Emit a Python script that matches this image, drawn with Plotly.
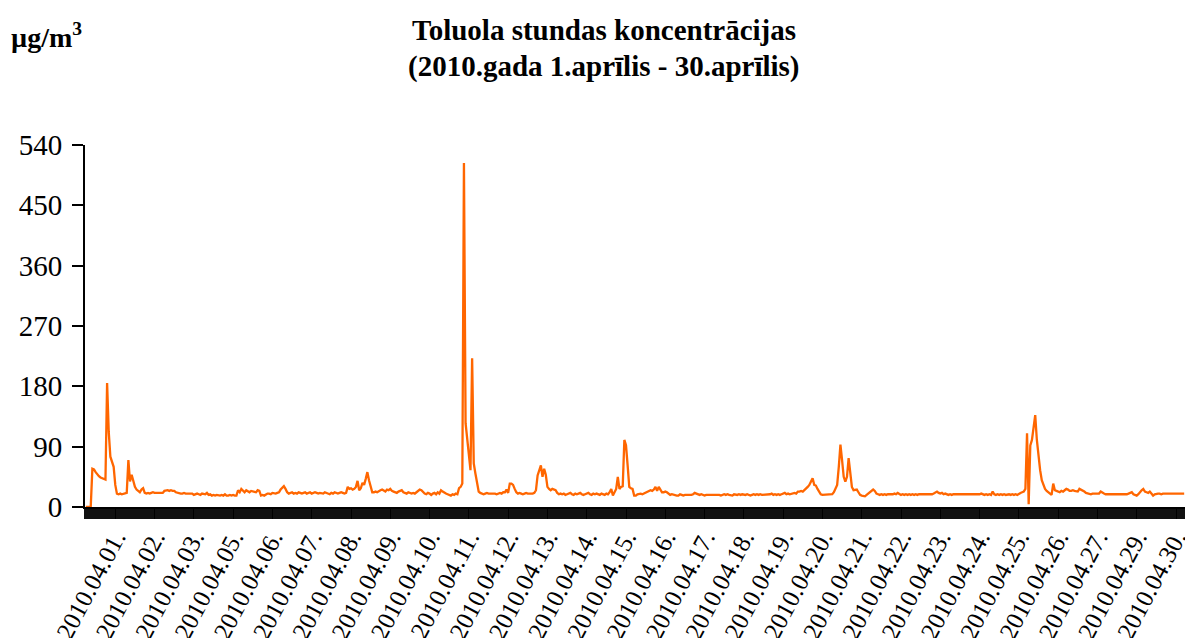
import plotly.graph_objects as go

# ---- data ----
day_labels = ["2010.04.01.", "2010.04.02.", "2010.04.03.", "2010.04.05.", "2010.04.06.",
              "2010.04.07.", "2010.04.08.", "2010.04.09.", "2010.04.10.", "2010.04.11.",
              "2010.04.12.", "2010.04.13.", "2010.04.14.", "2010.04.15.", "2010.04.16.",
              "2010.04.17.", "2010.04.18.", "2010.04.19.", "2010.04.20.", "2010.04.21.",
              "2010.04.22.", "2010.04.23.", "2010.04.24.", "2010.04.25.", "2010.04.26.",
              "2010.04.27.", "2010.04.29.", "2010.04.30."]

# hourly toluene concentration, µg/m3 (24 values per labelled day)
hourly_toluene = [
    0, 0, 0, 0, 57, 56, 52, 48, 46, 44, 43, 43, 41, 185, 112, 75, 67, 60, 33, 20, 19, 20, 19, 20,
    20, 21, 70, 38, 48, 40, 30, 26, 24, 22, 26, 28, 21, 20, 21, 20, 21, 22, 21, 21, 22, 21, 22, 21,
    24, 25, 25, 24, 25, 24, 24, 22, 21, 21, 20, 20, 21, 20, 20, 19, 19, 20, 18, 19, 20, 19, 18, 20,
    20, 19, 21, 18, 19, 17, 18, 17, 18, 17, 17, 18, 17, 19, 17, 17, 18, 17, 18, 17, 17, 25, 22, 27,
    24, 22, 25, 23, 22, 24, 23, 22, 22, 25, 24, 17, 18, 17, 19, 20, 20, 19, 21, 20, 20, 21, 22, 26,
    28, 31, 27, 22, 20, 21, 22, 20, 21, 20, 22, 21, 20, 21, 22, 20, 21, 22, 20, 21, 22, 21, 20, 21,
    21, 20, 22, 21, 20, 19, 21, 20, 22, 21, 20, 21, 22, 21, 20, 21, 30, 27, 28, 26, 27, 30, 39, 25,
    28, 36, 33, 42, 52, 40, 30, 22, 22, 23, 22, 24, 25, 26, 24, 23, 26, 25, 27, 24, 23, 22, 21, 23,
    24, 25, 22, 21, 20, 22, 21, 20, 21, 20, 22, 24, 26, 25, 22, 20, 19, 21, 20, 18, 20, 21, 19, 22,
    20, 25, 23, 21, 20, 19, 18, 17, 19, 18, 20, 19, 28, 30, 35, 513, 125, 100, 75, 55, 222, 65, 50, 35,
    23, 21, 20, 19, 20, 21, 20, 20, 21, 20, 20, 19, 20, 21, 20, 22, 22, 26, 21, 35, 35, 33, 27, 22,
    20, 21, 20, 19, 20, 21, 20, 20, 19, 20, 21, 25, 47, 55, 62, 45, 57, 48, 30, 27, 25, 27, 26, 25,
    21, 19, 20, 19, 20, 18, 19, 20, 21, 19, 18, 20, 19, 20, 21, 19, 18, 19, 20, 21, 19, 18, 20, 19,
    20, 19, 18, 20, 19, 18, 20, 19, 22, 27, 17, 23, 27, 45, 27, 30, 31, 100, 92, 62, 30, 28, 27, 17,
    17, 19, 20, 20, 19, 20, 21, 22, 24, 25, 24, 26, 30, 24, 30, 25, 22, 22, 23, 22, 20, 18, 19, 18,
    18, 17, 17, 19, 18, 17, 18, 18, 17, 18, 18, 19, 21, 20, 19, 18, 19, 18, 17, 18, 18, 19, 18, 18,
    19, 18, 19, 18, 17, 18, 19, 18, 19, 18, 18, 17, 19, 18, 18, 19, 18, 19, 18, 18, 19, 18, 17, 18,
    19, 18, 19, 18, 19, 18, 18, 19, 18, 18, 19, 20, 18, 19, 18, 19, 18, 19, 20, 21, 19, 20, 19, 20,
    20, 21, 20, 23, 23, 24, 23, 25, 27, 30, 33, 38, 43, 33, 32, 27, 22, 19, 18, 18, 19, 18, 18, 19,
    19, 22, 29, 33, 60, 93, 70, 45, 38, 45, 73, 55, 30, 25, 26, 26, 22, 18, 17, 16, 16, 18, 20, 22,
    24, 26, 24, 20, 19, 18, 19, 18, 19, 18, 19, 19, 18, 19, 20, 19, 21, 19, 18, 19, 18, 19, 18, 19,
    18, 19, 18, 19, 18, 19, 19, 18, 19, 18, 19, 18, 19, 19, 20, 21, 23, 21, 20, 21, 19, 20, 19, 18,
    19, 18, 19, 19, 18, 19, 18, 19, 19, 18, 19, 19, 18, 18, 19, 18, 19, 18, 19, 20, 19, 18, 19, 18,
    19, 18, 23, 19, 18, 19, 18, 19, 18, 19, 18, 19, 19, 18, 19, 18, 19, 18, 20, 21, 22, 23, 27, 110,
    4, 92, 100, 118, 137, 100, 75, 55, 40, 33, 27, 24, 22, 20, 18, 35, 25, 24, 23, 22, 24, 23, 25, 27,
    26, 24, 24, 25, 24, 24, 23, 27, 26, 25, 23, 21, 20, 20, 19, 20, 20, 21, 20, 20, 23, 21, 20, 19,
    19, 18, 19, 19, 18, 19, 19, 18, 19, 19, 18, 19, 19, 20, 21, 22, 19, 18, 17, 19, 23, 25, 27, 23,
    22, 21, 23, 19, 17, 19, 20, 20, 20, 19, 20, 20, 19, 20, 20, 19, 20, 20, 19, 20, 20, 19, 20, 20,
]

y_ticks = [0, 90, 180, 270, 360, 450, 540]

HOURS_PER_DAY = 24
hours = list(range(len(hourly_toluene)))
label_pos = [i * HOURS_PER_DAY + 18 for i in range(len(day_labels))]

SERIF = "Liberation Serif, Times New Roman, serif"

fig = go.Figure(
    go.Scatter(x=hours, y=hourly_toluene, mode="lines",
               line=dict(color="#FF6600", width=2.3), hoverinfo="skip")
)

fig.update_layout(
    width=1185, height=638,
    margin=dict(l=85, r=0, t=145, b=131, autoexpand=False),
    paper_bgcolor="white", plot_bgcolor="white",
    showlegend=False,
    font=dict(family=SERIF, color="black", size=26),
    annotations=[
        dict(text="<b>Toluola stundas koncentrācijas</b>", xref="paper", yref="paper",
             x=(604 - 85) / 1100, y=(507 - 30) / 362, xanchor="center", yanchor="middle",
             showarrow=False, font=dict(family=SERIF, size=29, color="black")),
        dict(text="<b>(2010.gada 1.aprīlis - 30.aprīlis)</b>", xref="paper", yref="paper",
             x=(604 - 85) / 1100, y=(507 - 66) / 362, xanchor="center", yanchor="middle",
             showarrow=False, font=dict(family=SERIF, size=29, color="black")),
        dict(text="<b>µg/m<sup>3</sup></b>", xref="paper", yref="paper",
             x=(9 - 85) / 1100, y=(507 - 35) / 362, xanchor="left", yanchor="middle",
             showarrow=False, font=dict(family=SERIF, size=28, color="black")),
    ],
)

fig.update_xaxes(
    automargin=False,
    range=[-0.5, len(hourly_toluene) - 0.5],
    tickmode="array", tickvals=label_pos, ticktext=day_labels,
    tickangle=-62, ticks="outside", ticklen=10, tickwidth=1, tickcolor="black",
    tickfont=dict(family=SERIF, size=25, color="black"),
    ticklabelstandoff=-6, ticklabeloverflow="allow",
    showline=True, linecolor="black", linewidth=2,
    showgrid=False, zeroline=False,
    minor=dict(tickmode="linear", tick0=-0.5, dtick=1, ticks="outside",
               ticklen=10, tickwidth=1.5, tickcolor="#111111", showgrid=False),
)

fig.update_yaxes(
    automargin=False,
    range=[0, 540], tickmode="array", tickvals=y_ticks,
    ticks="outside", ticklen=11, tickwidth=2, tickcolor="black",
    tickfont=dict(family=SERIF, size=29, color="black"),
    ticklabelstandoff=4,
    showline=True, linecolor="black", linewidth=2,
    showgrid=False, zeroline=False,
)

fig.write_html("out.html", config={"displayModeBar": False},
               post_script="document.body.style.margin='0';document.body.style.overflow='hidden';")
